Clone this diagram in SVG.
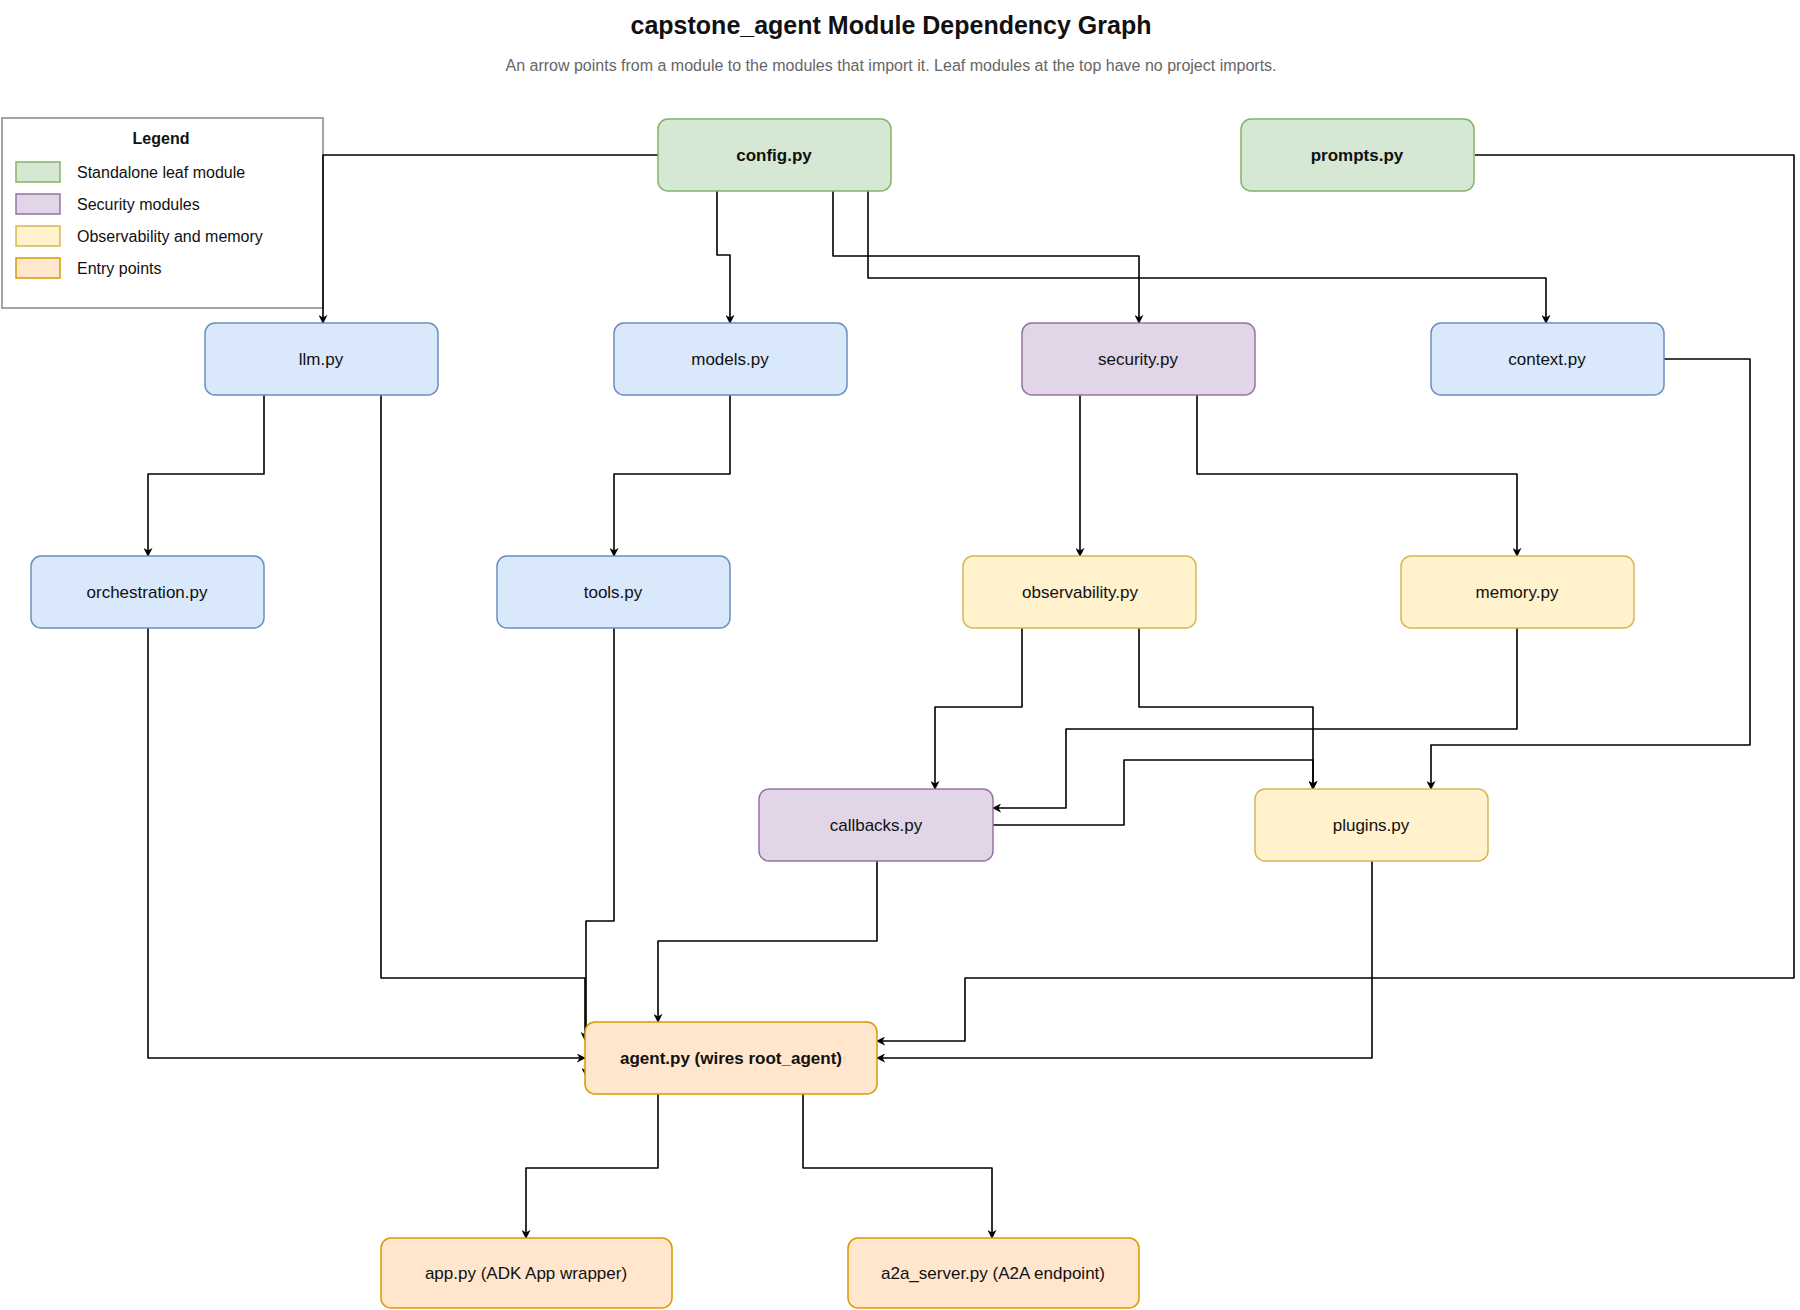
<svg xmlns="http://www.w3.org/2000/svg" width="1800" height="1310" viewBox="0 0 1800 1310">
<style>
text{font-family:"Liberation Sans",Arial,sans-serif;fill:#111}
.n{font-size:17px;text-anchor:middle;dominant-baseline:central}
.b{font-weight:bold}
.g rect{stroke-width:1.5}
.green{fill:#d5e8d4;stroke:#82b366}
.blue{fill:#dae8fc;stroke:#6c8ebf}
.purple{fill:#e1d5e7;stroke:#9673a6}
.yellow{fill:#fff2cc;stroke:#d6b656}
.orange{fill:#ffe6cc;stroke:#d79b00}
.e path{fill:none;stroke:#000;stroke-width:1.6;stroke-linejoin:round;marker-end:url(#a)}
.lg{font-size:16px}
</style>
<defs><marker id="a" viewBox="0 0 10 10" refX="9" refY="5" markerWidth="9" markerHeight="9" markerUnits="userSpaceOnUse" orient="auto"><path d="M0,0 L10,5 L0,10 L3,5 Z" fill="#000"/></marker></defs>
<rect width="1800" height="1310" fill="#fff"/>
<text x="891" y="34" font-size="25" class="b" text-anchor="middle">capstone_agent Module Dependency Graph</text>
<text x="891" y="71" font-size="16" text-anchor="middle" style="fill:#666">An arrow points from a module to the modules that import it. Leaf modules at the top have no project imports.</text>
<g id="legend">
<rect x="2" y="118" width="321" height="190" fill="#fff" stroke="#888" stroke-width="1.5"/>
<text x="161" y="144" class="lg b" text-anchor="middle">Legend</text>
<rect x="16" y="162" width="44" height="20" class="green" stroke-width="1.5"/><text x="77" y="178" class="lg">Standalone leaf module</text>
<rect x="16" y="194" width="44" height="20" class="purple" stroke-width="1.5"/><text x="77" y="210" class="lg">Security modules</text>
<rect x="16" y="226" width="44" height="20" class="yellow" stroke-width="1.5"/><text x="77" y="242" class="lg">Observability and memory</text>
<rect x="16" y="258" width="44" height="20" class="orange" stroke-width="1.5"/><text x="77" y="274" class="lg">Entry points</text>
</g>
<g class="e" id="connectors">
<path d="M658,155 H323 V323"/>
<path d="M717,190 V255 H730 V323"/>
<path d="M833,190 V256 H1139 V323"/>
<path d="M868,190 V278 H1546 V323"/>
<path d="M1475,155 H1794 V978 H965 V1041 H877"/>
<path d="M1664,359 H1750 V745 H1431 V789"/>
<path d="M264,395 V474 H148 V556"/>
<path d="M381,395 V978 H585 V1040"/>
<path d="M614,628 V921 H586 V1076"/>
<path d="M148,628 V1058 H585"/>
<path d="M730,395 V474 H614 V556"/>
<path d="M1080,395 V556"/>
<path d="M1197,395 V474 H1517 V556"/>
<path d="M1022,628 V707 H935 V789"/>
<path d="M1139,628 V707 H1313 V789"/>
<path d="M1517,628 V729 H1066 V808 H993"/>
<path d="M993,825 H1124 V760 H1313 V789"/>
<path d="M877,861 V941 H658 V1022"/>
<path d="M1372,861 V1058 H877"/>
<path d="M658,1094 V1168 H526 V1238"/>
<path d="M803,1094 V1168 H992 V1238"/>
</g>
<g id="config" class="g"><rect x="658" y="119" width="233" height="72" rx="10" class="green"/><text x="774" y="155" class="n b">config.py</text></g>
<g id="prompts" class="g"><rect x="1241" y="119" width="233" height="72" rx="10" class="green"/><text x="1357" y="155" class="n b">prompts.py</text></g>
<g id="llm" class="g"><rect x="205" y="323" width="233" height="72" rx="10" class="blue"/><text x="321" y="359" class="n">llm.py</text></g>
<g id="models" class="g"><rect x="614" y="323" width="233" height="72" rx="10" class="blue"/><text x="730" y="359" class="n">models.py</text></g>
<g id="security" class="g"><rect x="1022" y="323" width="233" height="72" rx="10" class="purple"/><text x="1138" y="359" class="n">security.py</text></g>
<g id="context" class="g"><rect x="1431" y="323" width="233" height="72" rx="10" class="blue"/><text x="1547" y="359" class="n">context.py</text></g>
<g id="orchestration" class="g"><rect x="31" y="556" width="233" height="72" rx="10" class="blue"/><text x="147" y="592" class="n">orchestration.py</text></g>
<g id="tools" class="g"><rect x="497" y="556" width="233" height="72" rx="10" class="blue"/><text x="613" y="592" class="n">tools.py</text></g>
<g id="observability" class="g"><rect x="963" y="556" width="233" height="72" rx="10" class="yellow"/><text x="1080" y="592" class="n">observability.py</text></g>
<g id="memory" class="g"><rect x="1401" y="556" width="233" height="72" rx="10" class="yellow"/><text x="1517" y="592" class="n">memory.py</text></g>
<g id="callbacks" class="g"><rect x="759" y="789" width="234" height="72" rx="10" class="purple"/><text x="876" y="825" class="n">callbacks.py</text></g>
<g id="plugins" class="g"><rect x="1255" y="789" width="233" height="72" rx="10" class="yellow"/><text x="1371" y="825" class="n">plugins.py</text></g>
<g id="agent" class="g"><rect x="585" y="1022" width="292" height="72" rx="10" class="orange"/><text x="731" y="1058" class="n b">agent.py (wires root_agent)</text></g>
<g id="app" class="g"><rect x="381" y="1238" width="291" height="70" rx="10" class="orange"/><text x="526" y="1273" class="n">app.py (ADK App wrapper)</text></g>
<g id="a2a" class="g"><rect x="848" y="1238" width="291" height="70" rx="10" class="orange"/><text x="993" y="1273" class="n">a2a_server.py (A2A endpoint)</text></g>
</svg>
